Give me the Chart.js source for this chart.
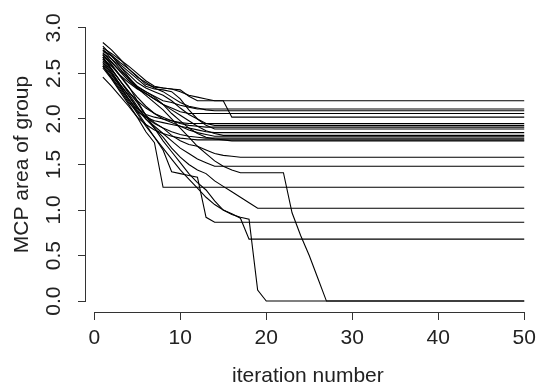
<!DOCTYPE html>
<html>
<head>
<meta charset="utf-8">
<script src="https://cdn.jsdelivr.net/npm/chart.js@4/dist/chart.umd.min.js"></script>
<style>
  html, body { margin: 0; padding: 0; background: #fff; }
  canvas { display: block; }
</style>
</head>
<body>
<canvas id="chart" width="542" height="383"></canvas>
<script>
const iterations = [1,2,3,4,5,6,7,8,9,10,11,12,13,14,15,16,17,18,19,20,
  21,22,23,24,25,26,27,28,29,30,31,32,33,34,35,36,37,38,39,40,
  41,42,43,44,45,46,47,48,49,50]
const xTicks = [0, 10, 20, 30, 40, 50]
const yTicks = [0, 0.5, 1, 1.5, 2, 2.5, 3]

// MCP area per run, one value per iteration
const run01 = [2.78,2.72,2.65,2.58,2.50,2.42,2.36,2.34,2.33,2.32,
  2.25,2.20,2.20,2.20,2.20,2.20,2.20,2.20,2.20,2.20,
  2.20,2.20,2.20,2.20,2.20,2.20,2.20,2.20,2.20,2.20,
  2.20,2.20,2.20,2.20,2.20,2.20,2.20,2.20,2.20,2.20,
  2.20,2.20,2.20,2.20,2.20,2.20,2.20,2.20,2.20,2.20]
const run02 = [2.74,2.70,2.62,2.55,2.47,2.38,2.35,2.34,2.33,2.30,
  2.26,2.24,2.22,2.20,2.20,2.02,2.02,2.02,2.02,2.02,
  2.02,2.02,2.02,2.02,2.02,2.02,2.02,2.02,2.02,2.02,
  2.02,2.02,2.02,2.02,2.02,2.02,2.02,2.02,2.02,2.02,
  2.02,2.02,2.02,2.02,2.02,2.02,2.02,2.02,2.02,2.02]
const run03 = [2.70,2.62,2.53,2.45,2.36,2.30,2.25,2.20,2.18,2.15,
  2.13,2.11,2.11,2.11,2.11,2.11,2.11,2.11,2.11,2.11,
  2.11,2.11,2.11,2.11,2.11,2.11,2.11,2.11,2.11,2.11,
  2.11,2.11,2.11,2.11,2.11,2.11,2.11,2.11,2.11,2.11,
  2.11,2.11,2.11,2.11,2.11,2.11,2.11,2.11,2.11,2.11]
const run04 = [2.84,2.76,2.66,2.55,2.46,2.40,2.34,2.30,2.24,2.18,
  2.14,2.12,2.10,2.09,2.09,2.09,2.09,2.09,2.09,2.09,
  2.09,2.09,2.09,2.09,2.09,2.09,2.09,2.09,2.09,2.09,
  2.09,2.09,2.09,2.09,2.09,2.09,2.09,2.09,2.09,2.09,
  2.09,2.09,2.09,2.09,2.09,2.09,2.09,2.09,2.09,2.09]
const run05 = [2.66,2.58,2.48,2.40,2.33,2.28,2.22,2.16,2.12,2.08,
  2.06,2.06,2.06,2.06,2.06,2.06,2.06,2.06,2.06,2.06,
  2.06,2.06,2.06,2.06,2.06,2.06,2.06,2.06,2.06,2.06,
  2.06,2.06,2.06,2.06,2.06,2.06,2.06,2.06,2.06,2.06,
  2.06,2.06,2.06,2.06,2.06,2.06,2.06,2.06,2.06,2.06]
const run06 = [2.62,2.50,2.38,2.25,2.12,2.05,2.02,2.00,1.98,1.96,
  1.95,1.95,1.95,1.95,1.95,1.95,1.95,1.95,1.95,1.95,
  1.95,1.95,1.95,1.95,1.95,1.95,1.95,1.95,1.95,1.95,
  1.95,1.95,1.95,1.95,1.95,1.95,1.95,1.95,1.95,1.95,
  1.95,1.95,1.95,1.95,1.95,1.95,1.95,1.95,1.95,1.95]
const run07 = [2.72,2.66,2.58,2.49,2.40,2.34,2.30,2.26,2.20,2.12,
  2.05,2.00,1.95,1.93,1.93,1.93,1.93,1.93,1.93,1.93,
  1.93,1.93,1.93,1.93,1.93,1.93,1.93,1.93,1.93,1.93,
  1.93,1.93,1.93,1.93,1.93,1.93,1.93,1.93,1.93,1.93,
  1.93,1.93,1.93,1.93,1.93,1.93,1.93,1.93,1.93,1.93]
const run08 = [2.68,2.55,2.42,2.30,2.20,2.12,2.06,2.02,1.98,1.95,
  1.93,1.92,1.91,1.91,1.91,1.91,1.91,1.91,1.91,1.91,
  1.91,1.91,1.91,1.91,1.91,1.91,1.91,1.91,1.91,1.91,
  1.91,1.91,1.91,1.91,1.91,1.91,1.91,1.91,1.91,1.91,
  1.91,1.91,1.91,1.91,1.91,1.91,1.91,1.91,1.91,1.91]
const run09 = [2.76,2.69,2.60,2.52,2.44,2.36,2.33,2.32,2.30,2.22,
  2.10,2.00,1.93,1.89,1.89,1.89,1.89,1.89,1.89,1.89,
  1.89,1.89,1.89,1.89,1.89,1.89,1.89,1.89,1.89,1.89,
  1.89,1.89,1.89,1.89,1.89,1.89,1.89,1.89,1.89,1.89,
  1.89,1.89,1.89,1.89,1.89,1.89,1.89,1.89,1.89,1.89]
const run10 = [2.58,2.45,2.32,2.18,2.08,2.02,1.98,1.96,1.94,1.92,
  1.90,1.88,1.86,1.85,1.85,1.85,1.85,1.85,1.85,1.85,
  1.85,1.85,1.85,1.85,1.85,1.85,1.85,1.85,1.85,1.85,
  1.85,1.85,1.85,1.85,1.85,1.85,1.85,1.85,1.85,1.85,
  1.85,1.85,1.85,1.85,1.85,1.85,1.85,1.85,1.85,1.85]
const run11 = [2.73,2.63,2.52,2.42,2.34,2.28,2.22,2.16,2.10,2.04,
  1.98,1.92,1.87,1.84,1.82,1.82,1.82,1.82,1.82,1.82,
  1.82,1.82,1.82,1.82,1.82,1.82,1.82,1.82,1.82,1.82,
  1.82,1.82,1.82,1.82,1.82,1.82,1.82,1.82,1.82,1.82,
  1.82,1.82,1.82,1.82,1.82,1.82,1.82,1.82,1.82,1.82]
const run12 = [2.70,2.59,2.47,2.35,2.24,2.14,2.06,2.00,1.96,1.92,
  1.88,1.85,1.83,1.81,1.81,1.81,1.81,1.81,1.81,1.81,
  1.81,1.81,1.81,1.81,1.81,1.81,1.81,1.81,1.81,1.81,
  1.81,1.81,1.81,1.81,1.81,1.81,1.81,1.81,1.81,1.81,
  1.81,1.81,1.81,1.81,1.81,1.81,1.81,1.81,1.81,1.81]
const run13 = [2.64,2.52,2.38,2.26,2.12,2.02,1.95,1.90,1.86,1.83,
  1.81,1.80,1.79,1.79,1.79,1.79,1.79,1.79,1.79,1.79,
  1.79,1.79,1.79,1.79,1.79,1.79,1.79,1.79,1.79,1.79,
  1.79,1.79,1.79,1.79,1.79,1.79,1.79,1.79,1.79,1.79,
  1.79,1.79,1.79,1.79,1.79,1.79,1.79,1.79,1.79,1.79]
const run14 = [2.46,2.36,2.25,2.14,2.02,1.94,1.88,1.84,1.81,1.79,
  1.78,1.77,1.77,1.77,1.77,1.77,1.77,1.77,1.77,1.77,
  1.77,1.77,1.77,1.77,1.77,1.77,1.77,1.77,1.77,1.77,
  1.77,1.77,1.77,1.77,1.77,1.77,1.77,1.77,1.77,1.77,
  1.77,1.77,1.77,1.77,1.77,1.77,1.77,1.77,1.77,1.77]
const run15 = [2.80,2.70,2.58,2.46,2.35,2.30,2.24,2.16,2.06,1.98,
  1.90,1.84,1.80,1.78,1.77,1.76,1.76,1.76,1.76,1.76,
  1.76,1.76,1.76,1.76,1.76,1.76,1.76,1.76,1.76,1.76,
  1.76,1.76,1.76,1.76,1.76,1.76,1.76,1.76,1.76,1.76,
  1.76,1.76,1.76,1.76,1.76,1.76,1.76,1.76,1.76,1.76]
const run16 = [2.71,2.60,2.48,2.36,2.20,2.04,1.96,1.90,1.82,1.76,
  1.72,1.70,1.66,1.62,1.60,1.59,1.58,1.58,1.58,1.58,
  1.58,1.58,1.58,1.58,1.58,1.58,1.58,1.58,1.58,1.58,
  1.58,1.58,1.58,1.58,1.58,1.58,1.58,1.58,1.58,1.58,
  1.58,1.58,1.58,1.58,1.58,1.58,1.58,1.58,1.58,1.58]
const run17 = [2.60,2.48,2.36,2.22,2.10,2.00,1.92,1.84,1.76,1.68,
  1.62,1.56,1.52,1.48,1.48,1.48,1.48,1.48,1.48,1.48,
  1.48,1.48,1.48,1.48,1.48,1.48,1.48,1.48,1.48,1.48,
  1.48,1.48,1.48,1.48,1.48,1.48,1.48,1.48,1.48,1.48,
  1.48,1.48,1.48,1.48,1.48,1.48,1.48,1.48,1.48,1.48]
const run18 = [2.56,2.44,2.30,2.16,2.02,1.86,1.74,1.25,1.25,1.25,
  1.25,1.25,1.25,1.25,1.25,1.25,1.25,1.25,1.25,1.25,
  1.25,1.25,1.25,1.25,1.25,1.25,1.25,1.25,1.25,1.25,
  1.25,1.25,1.25,1.25,1.25,1.25,1.25,1.25,1.25,1.25,
  1.25,1.25,1.25,1.25,1.25,1.25,1.25,1.25,1.25,1.25]
const run19 = [2.68,2.55,2.42,2.28,2.14,2.00,1.90,1.80,1.68,1.58,
  1.50,1.44,1.40,1.32,1.26,1.20,1.14,1.08,1.02,1.02,
  1.02,1.02,1.02,1.02,1.02,1.02,1.02,1.02,1.02,1.02,
  1.02,1.02,1.02,1.02,1.02,1.02,1.02,1.02,1.02,1.02,
  1.02,1.02,1.02,1.02,1.02,1.02,1.02,1.02,1.02,1.02]
const run20 = [2.62,2.50,2.36,2.22,2.08,1.94,1.80,1.66,1.42,1.40,
  1.38,1.36,0.92,0.865,0.865,0.865,0.865,0.865,0.865,0.865,
  0.865,0.865,0.865,0.865,0.865,0.865,0.865,0.865,0.865,0.865,
  0.865,0.865,0.865,0.865,0.865,0.865,0.865,0.865,0.865,0.865,
  0.865,0.865,0.865,0.865,0.865,0.865,0.865,0.865,0.865,0.865]
const run21 = [2.58,2.46,2.34,2.20,2.06,1.92,1.80,1.68,1.56,1.44,
  1.34,1.24,1.14,1.06,1.00,0.96,0.91,0.68,0.68,0.68,
  0.68,0.68,0.68,0.68,0.68,0.68,0.68,0.68,0.68,0.68,
  0.68,0.68,0.68,0.68,0.68,0.68,0.68,0.68,0.68,0.68,
  0.68,0.68,0.68,0.68,0.68,0.68,0.68,0.68,0.68,0.68]
const run22 = [2.66,2.54,2.42,2.30,2.18,2.04,1.90,1.76,1.64,1.52,
  1.40,1.30,1.22,1.10,1.00,0.95,0.92,0.90,0.12,0,
  0,0,0,0,0,0,0,0,0,0,
  0,0,0,0,0,0,0,0,0,0,
  0,0,0,0,0,0,0,0,0,0]
const run23 = [2.76,2.66,2.55,2.44,2.34,2.26,2.18,2.10,2.00,1.90,
  1.80,1.70,1.62,1.54,1.48,1.44,1.41,1.41,1.41,1.41,
  1.41,1.41,0.97,0.72,0.50,0.25,0,0,0,0,
  0,0,0,0,0,0,0,0,0,0,
  0,0,0,0,0,0,0,0,0,0]

const runs = [run01, run02, run03, run04, run05, run06, run07, run08,
  run09, run10, run11, run12, run13, run14, run15, run16, run17, run18,
  run19, run20, run21, run22, run23]

const lineColor = '#000'
const axisColor = '#333'
const textColor = '#222'
const fontFamily = '"Liberation Sans", Arial, Helvetica, sans-serif'
const fontSize = 21

// R style axes: line only between first and last tick, rotated y labels
const rAxes = {
  id: 'rAxes',
  afterDraw(chart) {
    const { ctx, chartArea, scales: { x, y } } = chart
    ctx.save()
    ctx.strokeStyle = axisColor
    ctx.lineWidth = 1
    ctx.beginPath()
    const yb = Math.round(chartArea.bottom) + 0.5
    ctx.moveTo(x.getPixelForValue(xTicks[0]), yb)
    ctx.lineTo(x.getPixelForValue(xTicks[xTicks.length - 1]), yb)
    const xl = Math.round(chartArea.left) - 0.5
    ctx.moveTo(xl, y.getPixelForValue(yTicks[0]))
    ctx.lineTo(xl, y.getPixelForValue(yTicks[yTicks.length - 1]))
    ctx.stroke()

    ctx.fillStyle = textColor
    ctx.font = fontSize + 'px ' + fontFamily
    ctx.textAlign = 'center'
    ctx.textBaseline = 'middle'
    yTicks.forEach(v => {
      ctx.save()
      ctx.translate(54, y.getPixelForValue(v))
      ctx.rotate(-Math.PI / 2)
      ctx.fillText(v.toFixed(1), 0, 0)
      ctx.restore()
    })
    ctx.restore()
  }
}

new Chart(document.getElementById('chart'), {
  type: 'line',
  data: {
    labels: iterations,
    datasets: runs.map(r => ({
      data: r,
      borderColor: lineColor,
      borderWidth: 1.1,
      pointRadius: 0,
      fill: false,
      tension: 0,
    })),
  },
  options: {
    responsive: false,
    animation: false,
    events: [],
    layout: { padding: { top: 17, right: 7, bottom: 0, left: 0 } },
    plugins: { legend: { display: false }, tooltip: { enabled: false } },
    scales: {
      x: {
        type: 'linear',
        min: -0.96,
        max: 50.65,
        afterBuildTicks: s => { s.ticks = xTicks.map(v => ({ value: v })) },
        afterFit: s => { s.height = 71 },
        border: { display: false },
        grid: { drawOnChartArea: false, drawTicks: true, tickLength: 8, color: axisColor },
        ticks: {
          color: textColor,
          font: { family: fontFamily, size: fontSize },
          padding: 6,
          maxRotation: 0,
          autoSkip: false,
        },
        title: {
          display: true,
          text: 'iteration number',
          color: textColor,
          font: { family: fontFamily, size: fontSize },
          padding: { top: 0, bottom: -5.5 },
        },
      },
      y: {
        min: -0.12,
        max: 3.12,
        afterBuildTicks: s => { s.ticks = yTicks.map(v => ({ value: v })) },
        afterFit: s => { s.width = 86 },
        border: { display: false },
        grid: { drawOnChartArea: false, drawTicks: true, tickLength: 8, color: axisColor },
        ticks: { display: false },
        title: {
          display: true,
          text: 'MCP area of group',
          color: textColor,
          font: { family: fontFamily, size: fontSize },
          padding: { top: 10, bottom: 0 },
        },
      },
    },
  },
  plugins: [rAxes],
})
</script>
</body>
</html>
